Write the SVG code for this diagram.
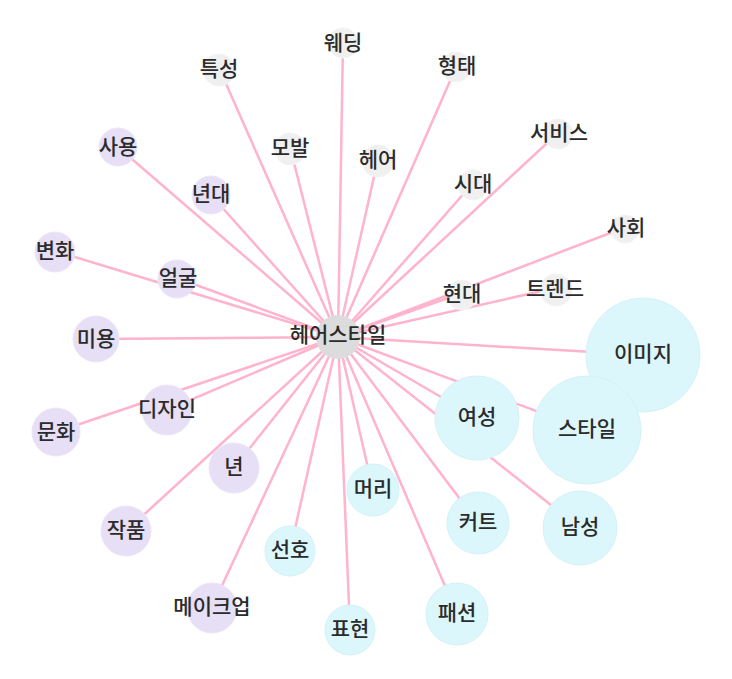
<svg xmlns="http://www.w3.org/2000/svg" width="732" height="679" viewBox="0 0 732 679">
<style>
.e{stroke:#ffb3cc;stroke-width:2.5;fill:none}
.g{fill:#f0f0f0;stroke:#f4f4f4;stroke-width:1}
.p{fill:#e6dff5;stroke:#ece6f8;stroke-width:1}
.c{fill:#dcf7fb;stroke:#d2f2f7;stroke-width:1}
.m{fill:#dcdcdc}
text{font-family:"Noto Sans CJK KR","Noto Sans",sans-serif;font-size:21px;font-weight:500;fill:#2b2b2b;text-anchor:middle;dominant-baseline:central}
</style>
<rect width="732" height="679" fill="#fff"/>
<g id="edges">
<line class="e" x1="338" y1="337" x2="343" y2="42"/>
<line class="e" x1="338" y1="337" x2="219" y2="68"/>
<line class="e" x1="338" y1="337" x2="290" y2="147"/>
<line class="e" x1="338" y1="337" x2="378" y2="159"/>
<line class="e" x1="338" y1="337" x2="457" y2="65"/>
<line class="e" x1="338" y1="337" x2="559" y2="132"/>
<line class="e" x1="338" y1="337" x2="473" y2="183"/>
<line class="e" x1="338" y1="337" x2="626" y2="227"/>
<line class="e" x1="338" y1="337" x2="462" y2="293"/>
<line class="e" x1="338" y1="337" x2="555" y2="288"/>
<line class="e" x1="338" y1="337" x2="643" y2="355"/>
<line class="e" x1="338" y1="337" x2="587" y2="430"/>
<line class="e" x1="338" y1="337" x2="477" y2="418"/>
<line class="e" x1="338" y1="337" x2="580" y2="528"/>
<line class="e" x1="338" y1="337" x2="478" y2="523"/>
<line class="e" x1="338" y1="337" x2="457" y2="614"/>
<line class="e" x1="338" y1="337" x2="373" y2="490"/>
<line class="e" x1="338" y1="337" x2="350" y2="630"/>
<line class="e" x1="338" y1="337" x2="290" y2="551"/>
<line class="e" x1="338" y1="337" x2="212" y2="607"/>
<line class="e" x1="338" y1="337" x2="234" y2="468"/>
<line class="e" x1="338" y1="337" x2="126" y2="531"/>
<line class="e" x1="338" y1="337" x2="167" y2="410"/>
<line class="e" x1="338" y1="337" x2="56" y2="432"/>
<line class="e" x1="338" y1="337" x2="96" y2="339"/>
<line class="e" x1="338" y1="337" x2="177" y2="278"/>
<line class="e" x1="338" y1="337" x2="55" y2="251"/>
<line class="e" x1="338" y1="337" x2="211" y2="195"/>
<line class="e" x1="338" y1="337" x2="118" y2="147"/>
</g>
<g id="n-center"><circle class="m" cx="338" cy="337" r="22"/><text x="338" y="333">헤어스타일</text></g>
<g id="n-wedding"><circle class="g" cx="343" cy="43" r="15"/><text x="343" y="41">웨딩</text></g>
<g id="n-teukseong"><circle class="g" cx="219" cy="70" r="16"/><text x="219" y="67">특성</text></g>
<g id="n-mobal"><circle class="g" cx="290" cy="149" r="16"/><text x="290" y="146">모발</text></g>
<g id="n-heeo"><circle class="g" cx="378" cy="161" r="16"/><text x="378" y="158">헤어</text></g>
<g id="n-hyeongtae"><circle class="g" cx="456" cy="67" r="15"/><text x="457" y="64">형태</text></g>
<g id="n-service"><circle class="g" cx="558" cy="134" r="15"/><text x="559" y="131">서비스</text></g>
<g id="n-sidae"><circle class="g" cx="473" cy="185" r="15"/><text x="473" y="182">시대</text></g>
<g id="n-sahoe"><circle class="g" cx="625" cy="229" r="14"/><text x="626" y="226">사회</text></g>
<g id="n-hyeondae"><circle class="g" cx="462" cy="295" r="15"/><text x="462" y="292">현대</text></g>
<g id="n-trend"><circle class="g" cx="556" cy="290" r="16"/><text x="555" y="287">트렌드</text></g>
<g id="n-image"><circle class="c" cx="643" cy="355" r="57"/><text x="643" y="352">이미지</text></g>
<g id="n-style"><circle class="c" cx="587" cy="430" r="54"/><text x="587" y="427">스타일</text></g>
<g id="n-yeoseong"><circle class="c" cx="477" cy="418" r="42"/><text x="477" y="415">여성</text></g>
<g id="n-namseong"><circle class="c" cx="580" cy="528" r="37"/><text x="580" y="525">남성</text></g>
<g id="n-cut"><circle class="c" cx="478" cy="523" r="31"/><text x="478" y="520">커트</text></g>
<g id="n-fashion"><circle class="c" cx="457" cy="614" r="31"/><text x="457" y="611">패션</text></g>
<g id="n-meori"><circle class="c" cx="373" cy="490" r="26"/><text x="373" y="487">머리</text></g>
<g id="n-pyohyeon"><circle class="c" cx="350" cy="630" r="25"/><text x="350" y="627">표현</text></g>
<g id="n-seonho"><circle class="c" cx="290" cy="551" r="25"/><text x="290" y="548">선호</text></g>
<g id="n-makeup"><circle class="p" cx="212" cy="608" r="25"/><text x="212" y="605">메이크업</text></g>
<g id="n-nyeon"><circle class="p" cx="234" cy="468" r="25"/><text x="234" y="465">년</text></g>
<g id="n-jakpum"><circle class="p" cx="126" cy="531" r="25"/><text x="126" y="528">작품</text></g>
<g id="n-design"><circle class="p" cx="167" cy="410" r="25"/><text x="167" y="407">디자인</text></g>
<g id="n-munhwa"><circle class="p" cx="56" cy="432" r="24"/><text x="56" y="430">문화</text></g>
<g id="n-miyong"><circle class="p" cx="96" cy="339" r="23"/><text x="96" y="337">미용</text></g>
<g id="n-eolgul"><circle class="p" cx="177" cy="279" r="19"/><text x="178" y="276">얼굴</text></g>
<g id="n-byeonhwa"><circle class="p" cx="55" cy="252" r="20"/><text x="55" y="249">변화</text></g>
<g id="n-nyeondae"><circle class="p" cx="211" cy="195" r="19"/><text x="211" y="192">년대</text></g>
<g id="n-sayong"><circle class="p" cx="118" cy="147" r="19"/><text x="118" y="145">사용</text></g>
</svg>
